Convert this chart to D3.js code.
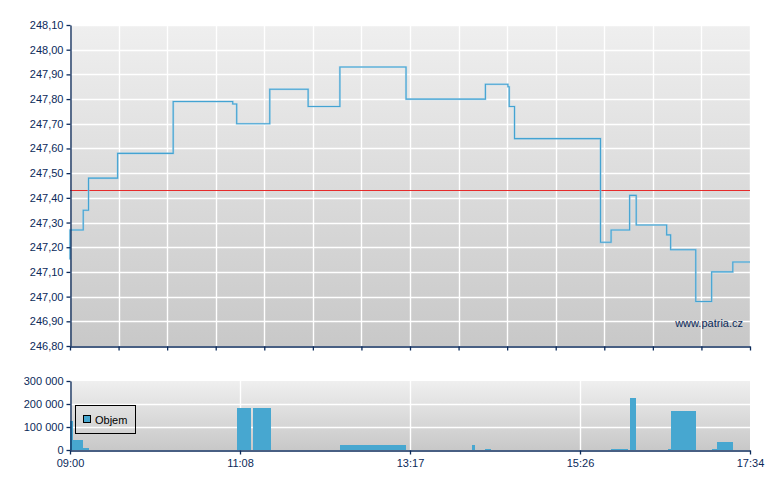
<!DOCTYPE html>
<html>
<head>
<meta charset="utf-8">
<script src="https://cdn.jsdelivr.net/npm/d3@7"></script>
<style>
  html, body { margin: 0; padding: 0; background: #ffffff; }
  svg { display: block; }
  text { font-family: "Liberation Sans", Arial, sans-serif; font-size: 11px; }
</style>
</head>
<body>
<svg id="chart" width="780" height="490"></svg>
<script>
// ---------------- DATA ----------------
const sessionStart = "09:00";
const sessionEnd = "17:34";

const priceTimes = ["09:00","09:00","09:10","09:14","09:36","10:18","11:03","11:06","11:31","12:00","12:24","13:14","14:14","14:31","14:32","14:36","15:41","15:49","16:03","16:08","16:31","16:34","16:53","17:05","17:21","17:34"];
const priceValues = [247.15,247.27,247.35,247.48,247.58,247.79,247.78,247.70,247.84,247.77,247.93,247.80,247.86,247.85,247.77,247.64,247.22,247.27,247.41,247.29,247.25,247.19,246.98,247.10,247.14,247.14];

const previousClose = 247.43;

const priceTicks = [246.8,246.9,247.0,247.1,247.2,247.3,247.4,247.5,247.6,247.7,247.8,247.9,248.0,248.1];

const volStart = ["09:00","09:02","09:10","11:06","11:18","12:24","14:04","14:14","15:49","16:03","16:32","16:34","17:05","17:09"];
const volEnd   = ["09:02","09:10","09:14","11:17","11:32","13:14","14:06","14:18","16:02","16:08","16:34","16:53","17:09","17:21"];
const volValues = [126000,43000,9000,183000,183000,22000,22000,4000,4000,226000,3000,170000,3000,35000];

const volTicks = [0,100000,200000,300000];
const timeLabels = ["09:00","11:08","13:17","15:26","17:34"];
const seriesName = "Objem";
const watermark = "www.patria.cz";

// ---------------- HELPERS ----------------
const toMin = s => { const [h,m] = s.split(":").map(Number); return h*60+m; };
const t0 = toMin(sessionStart), t1 = toMin(sessionEnd);
const loc = d3.formatLocale({decimal: ",", thousands: " ", grouping: [3], currency: ["", ""]});
const fmtPrice = loc.format(".2f");
const fmtVol = loc.format(",d");

const navy = "#0b2a5a";
const blue = "#47a7d0";

const svg = d3.select("#chart");
const defs = svg.append("defs");
const grad = defs.append("linearGradient").attr("id","bg").attr("x1",0).attr("y1",0).attr("x2",0).attr("y2",1);
grad.append("stop").attr("offset","0%").attr("stop-color","#efefef");
grad.append("stop").attr("offset","100%").attr("stop-color","#c8c8c8");

// ---------------- SCALES ----------------
const left = 70, right = 750;
const x = d3.scaleLinear().domain([0, t1 - t0]).range([left, right]);
const y = d3.scaleLinear().domain([246.8, 248.1]).range([346, 25]);
const yv = d3.scaleLinear().domain([0, 300000]).range([450, 381]);

// ---------------- MAIN PANEL ----------------
const main = svg.append("g");
main.append("rect").attr("x", left).attr("y", y(248.1)).attr("width", right-left).attr("height", y(246.8)-y(248.1)).attr("fill","url(#bg)");

const vGrid = d3.range(15).map(i => i*(t1-t0)/14);
main.append("g").selectAll("line").data(vGrid.slice(1)).join("line")
  .attr("x1", d => Math.round(x(d))+0.5).attr("x2", d => Math.round(x(d))+0.5)
  .attr("y1", y(248.1)).attr("y2", y(246.8))
  .attr("stroke","#ffffff").attr("stroke-width",1.4);
main.append("g").selectAll("line").data(priceTicks.slice(1)).join("line")
  .attr("x1", left).attr("x2", right)
  .attr("y1", d => Math.round(y(d))+0.5).attr("y2", d => Math.round(y(d))+0.5)
  .attr("stroke","#ffffff").attr("stroke-width",1.4);

// previous close
main.append("line").attr("x1", left).attr("x2", right)
  .attr("y1", Math.round(y(previousClose))+0.5).attr("y2", Math.round(y(previousClose))+0.5)
  .attr("stroke","#e62a2a").attr("stroke-width",1);

// price line
const priceData = priceTimes.map((t,i) => ({t: toMin(t)-t0, v: priceValues[i]}));
const line = d3.line().x(d => x(d.t)).y(d => y(d.v)).curve(d3.curveStepAfter);
main.append("path").datum(priceData).attr("d", line)
  .attr("fill","none").attr("stroke","#9fd0ea").attr("stroke-width",2.2).attr("opacity",0.6);
main.append("path").datum(priceData).attr("d", line)
  .attr("fill","none").attr("stroke","#44a3d2").attr("stroke-width",1.1);

// watermark
main.append("text").attr("x", 743).attr("y", 327).attr("text-anchor","end")
  .attr("fill", navy).text(watermark);

// axes
const yAxis = d3.axisLeft(y).tickValues(priceTicks).tickFormat(fmtPrice).tickSize(4).tickPadding(3).tickSizeOuter(0);
const gy = main.append("g").attr("transform", `translate(${left+0.5},0)`).call(yAxis);
const xAxisMain = d3.axisBottom(x).tickValues(vGrid).tickFormat("").tickSize(4).tickSizeOuter(0);
const gx = main.append("g").attr("transform", `translate(0,${Math.round(y(246.8))+0.5})`).call(xAxisMain);
[gy, gx].forEach(g => {
  g.select(".domain").attr("stroke", navy).attr("stroke-width", 1.3);
  g.selectAll(".tick line").attr("stroke", navy).attr("stroke-width", 1.3);
  g.selectAll(".tick text").attr("fill", navy).style("font-family", '"Liberation Sans", Arial, sans-serif').style("font-size","11px");
});

// ---------------- VOLUME PANEL ----------------
const vol = svg.append("g");
vol.append("rect").attr("x", left).attr("y", yv(300000)).attr("width", right-left).attr("height", yv(0)-yv(300000)).attr("fill","url(#bg)");

const labelMins = timeLabels.map((d,i) => i*(t1-t0)/(timeLabels.length-1));
vol.append("g").selectAll("line").data(labelMins.slice(1,-1)).join("line")
  .attr("x1", d => Math.round(x(d))+0.5).attr("x2", d => Math.round(x(d))+0.5)
  .attr("y1", yv(300000)).attr("y2", yv(0))
  .attr("stroke","#ffffff").attr("stroke-width",1.4);
vol.append("g").selectAll("line").data(volTicks.slice(1,-1)).join("line")
  .attr("x1", left).attr("x2", right)
  .attr("y1", d => Math.round(yv(d))+0.5).attr("y2", d => Math.round(yv(d))+0.5)
  .attr("stroke","#ffffff").attr("stroke-width",1.4);

const bx0 = i => Math.round(x(toMin(volStart[i])-t0));
const bx1 = i => Math.round(x(toMin(volEnd[i])-t0));
vol.append("g").attr("shape-rendering","crispEdges").selectAll("rect").data(volValues).join("rect")
  .attr("x", (d,i) => bx0(i))
  .attr("width", (d,i) => Math.max(1, bx1(i) - bx0(i)))
  .attr("y", d => Math.round(yv(d)))
  .attr("height", d => Math.round(yv(0)) - Math.round(yv(d)))
  .attr("fill", blue);

const yvAxis = d3.axisLeft(yv).tickValues(volTicks).tickFormat(fmtVol).tickSize(4).tickPadding(3).tickSizeOuter(0);
const gyv = vol.append("g").attr("transform", `translate(${left+0.5},0)`).call(yvAxis);
const xvAxis = d3.axisBottom(x).tickValues(labelMins).tickFormat((d,i) => timeLabels[i]).tickSize(4).tickPadding(5).tickSizeOuter(0);
const gxv = vol.append("g").attr("transform", `translate(0,${Math.round(yv(0))+0.5})`).call(xvAxis);
[gyv, gxv].forEach(g => {
  g.select(".domain").attr("stroke", navy).attr("stroke-width", 1.3);
  g.selectAll(".tick line").attr("stroke", navy).attr("stroke-width", 1.3);
  g.selectAll(".tick text").attr("fill", navy).style("font-family", '"Liberation Sans", Arial, sans-serif').style("font-size","11px");
});

// legend
const lg = vol.append("g");
lg.append("rect").attr("x", 75.5).attr("y", 405.5).attr("width", 60).attr("height", 28)
  .attr("fill","none").attr("stroke","#000000").attr("stroke-width",1);
lg.append("rect").attr("x", 83.5).attr("y", 415.5).attr("width", 7).attr("height", 7)
  .attr("fill", blue).attr("stroke","#000000").attr("stroke-width",1);
lg.append("text").attr("x", 95).attr("y", 423.5).attr("fill","#000000").text(seriesName);
</script>
</body>
</html>
